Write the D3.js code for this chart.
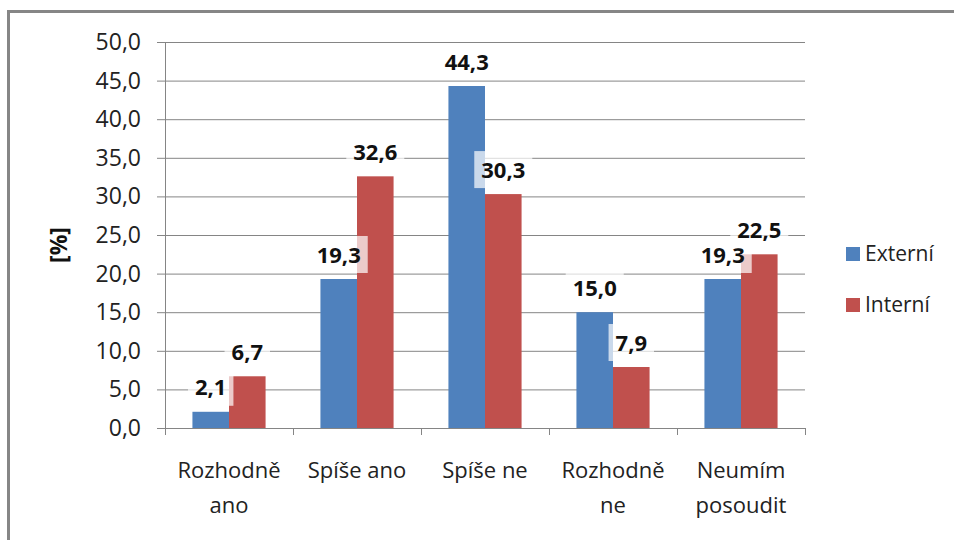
<!DOCTYPE html>
<html><head><meta charset="utf-8">
<script src="https://cdn.jsdelivr.net/npm/d3@7"></script>
<style>
html,body{margin:0;padding:0;background:#fff;}
svg{display:block;font-family:"Open Sans",sans-serif;}
</style></head>
<body>
<svg id="chart" width="954" height="540"></svg>
<script>
const categories = [["Rozhodně","ano"],["Spíše ano"],["Spíše ne"],["Rozhodně","ne"],["Neumím","posoudit"]];
const seriesNames = ["Externí","Interní"];
const externi = [2.1, 19.3, 44.3, 15.0, 19.3];
const interni = [6.7, 32.6, 30.3, 7.9, 22.5];
const yTicks = [0,5,10,15,20,25,30,35,40,45,50];
const colors = ["#4F81BD","#C0504D"];

(function(){
const svg = d3.select("#chart");
const fmt = v => d3.format(".1f")(v).replace(".", ",");

// outer frame
svg.append("path").attr("d","M8.5,540 L8.5,11.5 L954,11.5")
  .attr("fill","none").attr("stroke","#868686").attr("stroke-width",3);

const pLeft = 165, pRight = 805, pTop = 42, pBottom = 428;
const x = d3.scaleBand().domain(d3.range(categories.length)).range([pLeft,pRight]).padding(0);
const xs = d3.scaleBand().domain(seriesNames).range([0,x.bandwidth()]).paddingInner(0).paddingOuter(0.75);
const y = d3.scaleLinear().domain([0,50]).range([pBottom,pTop]);

// gridlines
svg.append("g").selectAll("line").data(yTicks).join("line")
  .attr("x1",157).attr("x2",pRight).attr("y1",d=>y(d)+0.5).attr("y2",d=>y(d)+0.5)
  .attr("stroke","#858585").attr("stroke-width",1);

// y axis line
svg.append("line").attr("x1",pLeft+0.5).attr("x2",pLeft+0.5).attr("y1",pTop).attr("y2",pBottom)
  .attr("stroke","#858585");
// x axis ticks
svg.append("g").selectAll("line").data(d3.range(categories.length+1)).join("line")
  .attr("x1",d=>pLeft + d*x.step()+0.5).attr("x2",d=>pLeft + d*x.step()+0.5)
  .attr("y1",pBottom).attr("y2",pBottom+7).attr("stroke","#858585");

// y tick labels
svg.append("g").selectAll("text").data(yTicks).join("text")
  .attr("x",141).attr("y",d=>y(d)).attr("dy","0.35em").attr("text-anchor","end")
  .attr("font-size",23).attr("fill","#222").text(d=>fmt(d));

// y axis title
svg.append("text").attr("transform","translate(59,245) rotate(-90)")
  .attr("text-anchor","middle").attr("dy","0.35em").attr("font-size",23).attr("font-weight","bold")
  .attr("fill","#111").text("[%]");

// bars
const data = [externi, interni];
const bars = svg.append("g");
data.forEach((vals,si)=>{
  bars.selectAll(null).data(vals).join("rect")
    .attr("x",(d,i)=>x(i)+xs(seriesNames[si]))
    .attr("width",xs.bandwidth())
    .attr("y",d=>y(d)).attr("height",d=>y(0)-y(d))
    .attr("fill",colors[si]);
});

// data labels
const lab = svg.append("g");
data.forEach((vals,si)=>{
  vals.forEach((v,i)=>{
    const cx = x(i)+xs(seriesNames[si])+xs.bandwidth()/2;
    const cy = y(v)-24;
    const g = lab.append("g");
    const t = g.append("text").attr("x",cx).attr("y",cy).attr("dy","0.35em")
      .attr("text-anchor","middle").attr("font-size",22).attr("font-weight","bold")
      .attr("fill","#111").text(fmt(v));
    const bb = t.node().getBBox();
    g.insert("rect","text").attr("x",bb.x-7).attr("width",bb.width+14)
      .attr("y",cy-19).attr("height",37).attr("fill","#fff").attr("fill-opacity",0.7);
  });
});

// category labels
const cat = svg.append("g");
categories.forEach((lines,i)=>{
  const t = cat.append("text").attr("text-anchor","middle").attr("font-size",22).attr("fill","#222");
  lines.forEach((l,j)=>{
    t.append("tspan").attr("x",x(i)+x.bandwidth()/2).attr("y",478+j*35).text(l);
  });
});

// legend
const leg = svg.append("g");
seriesNames.forEach((n,i)=>{
  const yy = 254 + i*51;
  leg.append("rect").attr("x",846).attr("y",yy-7).attr("width",14).attr("height",14).attr("fill",colors[i]);
  leg.append("text").attr("x",865).attr("y",yy).attr("dy","0.35em").attr("font-size",21)
    .attr("fill","#222").text(n);
});
})();
</script>
</body></html>
